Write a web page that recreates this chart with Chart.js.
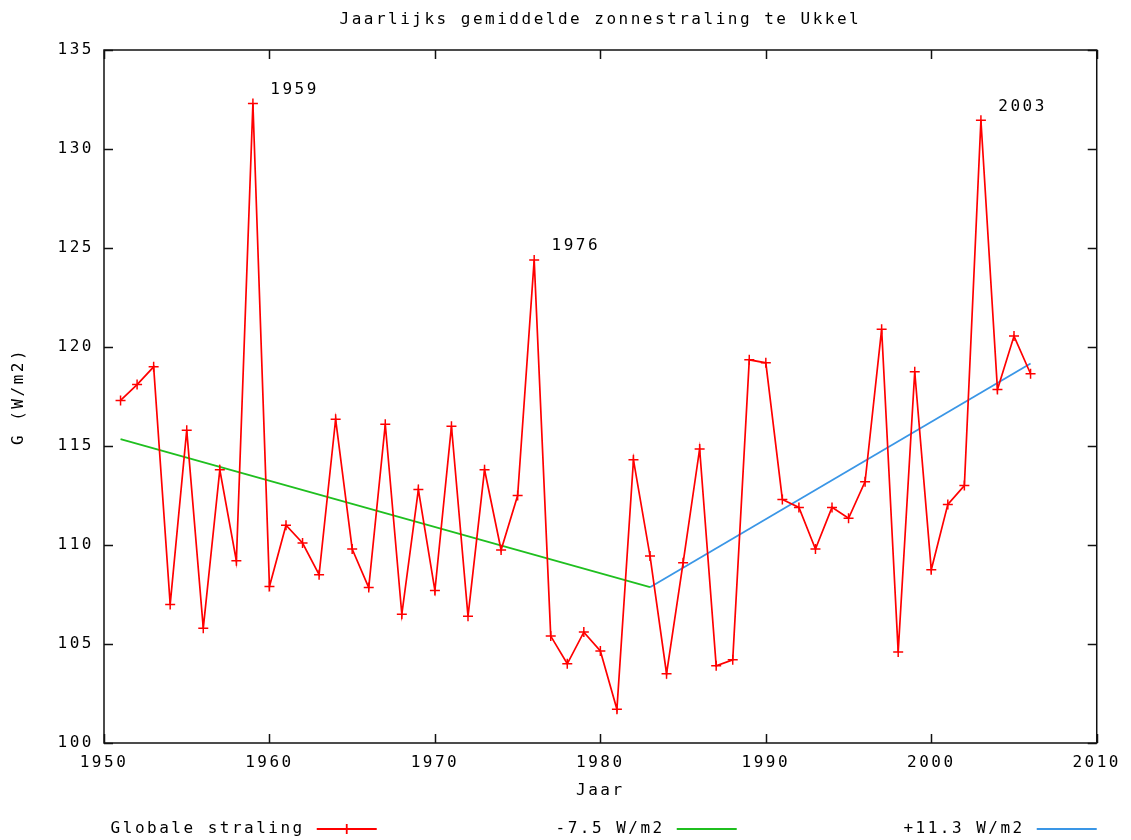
<!DOCTYPE html>
<html>
<head>
<meta charset="utf-8">
<script src="https://cdn.jsdelivr.net/npm/chart.js@4/dist/chart.umd.min.js"></script>
<style>
  html, body { margin: 0; padding: 0; background: #fff; }
  #wrap { width: 1131px; height: 840px; position: relative; }
</style>
</head>
<body>
<div id="wrap"><canvas id="chart"></canvas></div>
<script>
// Yearly mean global radiation, Ukkel
const years = [
  1951, 1952, 1953, 1954, 1955, 1956, 1957, 1958, 1959, 1960,
  1961, 1962, 1963, 1964, 1965, 1966, 1967, 1968, 1969, 1970,
  1971, 1972, 1973, 1974, 1975, 1976, 1977, 1978, 1979, 1980,
  1981, 1982, 1983, 1984, 1985, 1986, 1987, 1988, 1989, 1990,
  1991, 1992, 1993, 1994, 1995, 1996, 1997, 1998, 1999, 2000,
  2001, 2002, 2003, 2004, 2005, 2006,
];
const radiation = [
  117.3, 118.1, 119.0, 107.0, 115.8, 105.8, 113.8, 109.2, 132.3, 107.9,
  111.0, 110.1, 108.5, 116.35, 109.8, 107.85, 116.1, 106.5, 112.8, 107.7,
  116.0, 106.4, 113.8, 109.75, 112.5, 124.4, 105.4, 104.0, 105.6, 104.65,
  101.7, 114.3, 109.45, 103.5, 109.1, 114.85, 103.9, 104.2, 119.35, 119.2,
  112.3, 111.9, 109.8, 111.9, 111.35, 113.2, 120.9, 104.6, 118.75, 108.75,
  112.05, 113.0, 131.45, 117.85, 120.55, 118.65,
];

// trend lines
const downYears = [1951, 1983];
const downValues = [115.35, 107.87];
const upYears = [1983, 2006];
const upValues = [107.87, 119.17];

// peak annotations
const peakYears = [1959, 1976, 2003];

const xTicks = [1950, 1960, 1970, 1980, 1990, 2000, 2010];
const yTicks = [100, 105, 110, 115, 120, 125, 130, 135];

const FONT = "'DejaVu Sans Mono', 'Liberation Mono', monospace";
const SPACING = "2.5px";

function toPoints(xs, ys) {
  return xs.map((x, i) => ({ x, y: ys[i] }));
}

// gnuplot-style look: wide spaced mono font, closed box, inward ticks,
// title, peak labels and legend below the x axis title
const gnuplotPlugin = {
  id: "gnuplotLook",
  beforeUpdate(chart) {
    chart.ctx.letterSpacing = SPACING;
  },
  beforeDraw(chart) {
    chart.ctx.letterSpacing = SPACING;
  },
  afterDraw(chart) {
    const { ctx, chartArea: a, scales } = chart;
    const xs = scales.x, ys = scales.y;
    ctx.save();
    ctx.letterSpacing = SPACING;

    // box
    ctx.strokeStyle = "#111";
    ctx.lineWidth = 1.5;
    ctx.strokeRect(a.left, a.top, a.right - a.left, a.bottom - a.top);

    // inward ticks on all sides
    const tl = 9;
    ctx.beginPath();
    xTicks.forEach((v) => {
      const px = Math.round(xs.getPixelForValue(v)) + 0.5;
      ctx.moveTo(px, a.bottom); ctx.lineTo(px, a.bottom - tl);
      ctx.moveTo(px, a.top); ctx.lineTo(px, a.top + tl);
    });
    yTicks.forEach((v) => {
      const py = Math.round(ys.getPixelForValue(v)) + 0.5;
      ctx.moveTo(a.left, py); ctx.lineTo(a.left + tl, py);
      ctx.moveTo(a.right, py); ctx.lineTo(a.right - tl, py);
    });
    ctx.stroke();

    ctx.fillStyle = "#000";
    ctx.font = `16px ${FONT}`;
    ctx.textBaseline = "middle";

    // title
    ctx.textAlign = "center";
    ctx.fillText("Jaarlijks gemiddelde zonnestraling te Ukkel", (a.left + a.right) / 2, 20);

    // peak labels
    ctx.textAlign = "left";
    peakYears.forEach((yr) => {
      const v = radiation[years.indexOf(yr)];
      ctx.fillText(String(yr), xs.getPixelForValue(yr + 1.05), ys.getPixelForValue(v + 0.7));
    });

    // legend: text right-aligned, sample line after it
    const yLeg = 829;
    chart.data.datasets.forEach((ds, i) => {
      const lineEnd = a.right - (2 - i) * 360;
      const lineStart = lineEnd - 60;
      ctx.textAlign = "right";
      ctx.fillStyle = "#000";
      ctx.fillText(ds.label, lineStart - 12, yLeg);
      ctx.strokeStyle = ds.borderColor;
      ctx.lineWidth = 1.8;
      ctx.beginPath();
      ctx.moveTo(lineStart, yLeg); ctx.lineTo(lineEnd, yLeg);
      if (ds.pointStyle === "cross") {
        const cx = (lineStart + lineEnd) / 2;
        ctx.moveTo(cx, yLeg - 5); ctx.lineTo(cx, yLeg + 5);
      }
      ctx.stroke();
    });

    ctx.restore();
  },
};

const ctx = document.getElementById("chart");

new Chart(ctx, {
  type: "line",
  plugins: [gnuplotPlugin],
  data: {
    datasets: [
      {
        label: "Globale straling",
        data: toPoints(years, radiation),
        borderColor: "#ff0000",
        backgroundColor: "#ff0000",
        borderWidth: 1.7,
        pointStyle: "cross",
        pointRadius: 5,
        pointBorderWidth: 1.5,
        tension: 0,
      },
      {
        label: "-7.5 W/m2",
        data: toPoints(downYears, downValues),
        borderColor: "#1fbf1f",
        borderWidth: 1.8,
        pointRadius: 0,
      },
      {
        label: "+11.3 W/m2",
        data: toPoints(upYears, upValues),
        borderColor: "#3a96e6",
        borderWidth: 1.8,
        pointRadius: 0,
      },
    ],
  },
  options: {
    responsive: true,
    maintainAspectRatio: false,
    animation: false,
    events: [],
    layout: {
      padding: { left: 5, right: 34, top: 50, bottom: 36 },
    },
    plugins: {
      legend: { display: false },
      title: { display: false },
      tooltip: { enabled: false },
    },
    scales: {
      x: {
        type: "linear",
        min: 1950,
        max: 2010,
        afterBuildTicks: (scale) => { scale.ticks = xTicks.map((v) => ({ value: v })); },
        afterFit: (scale) => { scale.height = 840 - 743 - 36; },
        ticks: {
          callback: (v) => String(v),
          color: "#000",
          font: { family: FONT, size: 16 },
          padding: 10,
          maxRotation: 0,
          autoSkip: false,
        },
        grid: { display: false, drawTicks: false },
        border: { display: false },
        title: {
          display: true,
          text: "Jaar",
          color: "#000",
          font: { family: FONT, size: 16 },
          padding: { top: 4, bottom: 4 },
        },
      },
      y: {
        type: "linear",
        min: 100,
        max: 135,
        afterBuildTicks: (scale) => { scale.ticks = yTicks.map((v) => ({ value: v })); },
        afterFit: (scale) => { scale.width = 104 - 5; },
        ticks: {
          callback: (v) => String(v),
          color: "#000",
          font: { family: FONT, size: 16 },
          padding: 10,
          autoSkip: false,
        },
        grid: { display: false, drawTicks: false },
        border: { display: false },
        title: {
          display: true,
          text: "G (W/m2)",
          color: "#000",
          font: { family: FONT, size: 16 },
          padding: { top: 4, bottom: 4 },
        },
      },
    },
  },
});
</script>
</body>
</html>
